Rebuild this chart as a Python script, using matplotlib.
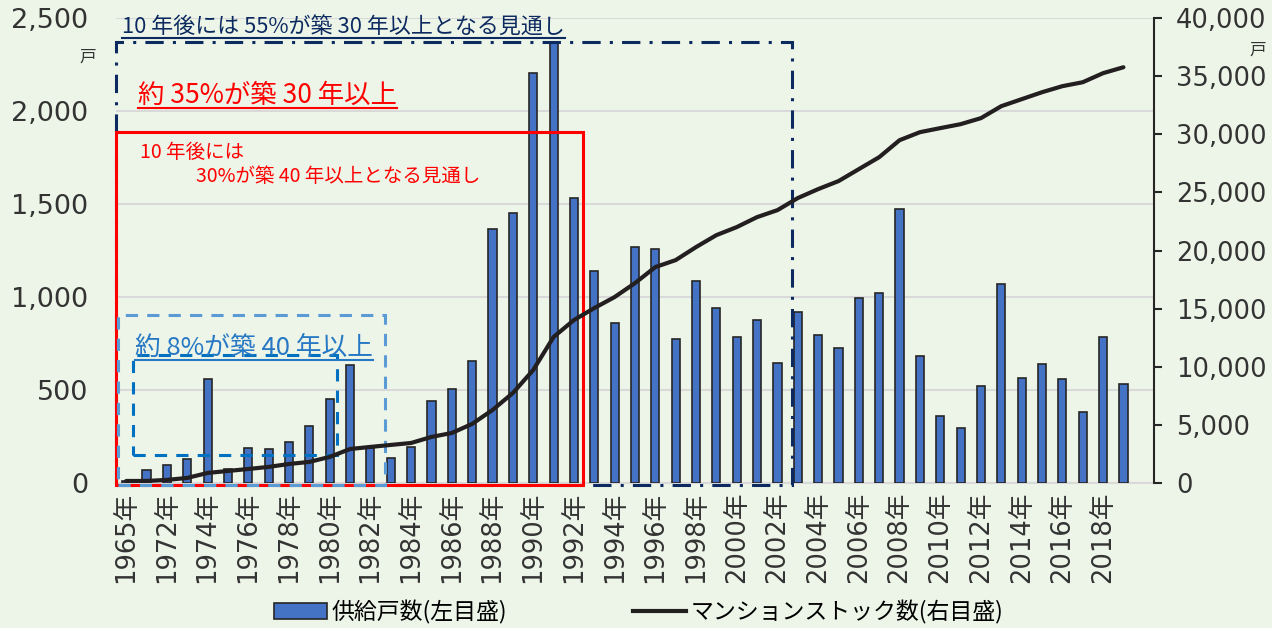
import numpy as np
import matplotlib
matplotlib.use('Agg')
import matplotlib.pyplot as plt
from matplotlib.patches import Rectangle, Patch
from matplotlib.lines import Line2D
from matplotlib.ticker import FuncFormatter

plt.rcParams['font.family'] = ['Noto Sans CJK JP', 'DejaVu Sans']
num_font = ['DejaVu Sans', 'Noto Sans CJK JP']

# data
years = ['1965', '1971', '1972', '1973', '1974', '1975', '1976', '1977', '1978', '1979',
         '1980', '1981', '1982', '1983', '1984', '1985', '1986', '1987', '1988', '1989',
         '1990', '1991', '1992', '1993', '1994', '1995', '1996', '1997', '1998', '1999',
         '2000', '2001', '2002', '2003', '2004', '2005', '2006', '2007', '2008', '2009',
         '2010', '2011', '2012', '2013', '2014', '2015', '2016', '2017', '2018', '2019']
supply = [12, 70, 97, 129, 559, 75, 188, 181, 219, 305,
          452, 634, 188, 134, 195, 441, 505, 656, 1366, 1452,
          2204, 2366, 1532, 1140, 860, 1269, 1258, 774, 1086, 941,
          785, 876, 645, 919, 796, 726, 995, 1022, 1473, 683,
          360, 296, 522, 1070, 563, 640, 559, 382, 785, 532]
stock = [170, 170, 260, 430, 860, 1030, 1200, 1380, 1630, 1810,
         2240, 2920, 3100, 3270, 3440, 3960, 4300, 5080, 6280, 7740,
         9720, 12560, 14020, 15050, 16000, 17200, 18580, 19180, 20300, 21330,
         22020, 22880, 23480, 24520, 25290, 25980, 27010, 28040, 29500, 30190,
         30540, 30880, 31400, 32430, 33030, 33630, 34150, 34490, 35270, 35780]

bg = '#EDF5E8'
navy = '#0C2A60'
blue_txt = '#2778C4'

fig = plt.figure(figsize=(12.72, 6.28), dpi=100, facecolor=bg)
ax = fig.add_axes([0.0912, 0.231, 0.816, 0.740])
ax.set_facecolor(bg)
ax2 = ax.twinx()

x = np.arange(len(years))
ax.bar(x, supply, width=0.4, color='#4472C4', edgecolor='#262626', linewidth=1.2, zorder=3)
ax2.plot(x, stock, color='#231F20', lw=3, zorder=4, solid_capstyle='round')

ax.set_xlim(-0.5, len(years) + 0.5)
ax.set_ylim(0, 2500)
ax2.set_ylim(0, 40000)
ax.set_yticks(np.arange(0, 2501, 500))
ax2.set_yticks(np.arange(0, 40001, 5000))
fmt = FuncFormatter(lambda v, p: f'{int(v):,}')
ax.yaxis.set_major_formatter(fmt)
ax2.yaxis.set_major_formatter(fmt)

ax.grid(axis='y', color='#D9D9D9', lw=1.5, zorder=0)
ax.set_axisbelow(True)
for s in ['top', 'left', 'right']:
    ax.spines[s].set_visible(False)
    ax2.spines[s].set_visible(False)
ax.spines['bottom'].set_color('#D9D9D9')
ax.spines['bottom'].set_linewidth(1.5)
ax2.spines['bottom'].set_visible(False)
ax2.spines['right'].set_visible(True)
ax2.spines['right'].set_color('#262626')
ax2.spines['right'].set_linewidth(1.5)

ax.tick_params(axis='y', length=0, labelcolor='#333333', pad=20)
ax2.tick_params(axis='y', length=6, width=1.5, color='#262626',
                labelcolor='#333333', pad=10)
ax.set_xticks(x[::2])
ax.set_xticklabels([y + '年' for y in years[::2]], rotation=90, color='#333333')
ax.tick_params(axis='x', length=0, pad=6)
for lab in ax2.get_yticklabels() + ax.get_xticklabels():
    lab.set_family(num_font)
    lab.set_fontsize(18.5)
for lab in ax.get_yticklabels():
    lab.set_family(num_font)
    lab.set_fontsize(19.5)

fig.text(0.069, 0.909, '戸', fontsize=12, color='#333333', ha='center', va='center')
fig.text(0.989, 0.92, '戸', fontsize=12, color='#333333', ha='center', va='center')

# annotation boxes (left-axis coordinates)
ax.add_patch(Rectangle((-0.49, -10), 33.2, 2381, fill=False, ec=navy, lw=2.2,
                       ls=(0, (6, 3, 1, 3)), zorder=5, clip_on=False))
ax.add_patch(Rectangle((-0.49, -10), 22.95, 1897, fill=False, ec='#FF0000', lw=2.2,
                       zorder=5, clip_on=False))
ax.add_patch(Rectangle((-0.4, -10), 13.1, 913, fill=False, ec='#5B9BD5', lw=2.2,
                       ls=(0, (4, 3)), zorder=6, clip_on=False))
ax.add_patch(Rectangle((0.34, 150), 10.0, 538, fill=False, ec='#0070C0', lw=2.2,
                       ls=(0, (4, 3)), zorder=6, clip_on=False))

t1 = fig.text(122 / 1272, 1 - 28 / 628, '10 年後には 55%が築 30 年以上となる見通し',
              fontsize=15.8, color=navy, ha='left', va='center')
t2 = fig.text(138 / 1272, 1 - 95 / 628, '約 35%が築 30 年以上',
              fontsize=19, color='#FF0000', ha='left', va='center')
t3 = fig.text(140 / 1272, 1 - 153 / 628, '10 年後には',
              fontsize=14, color='#FF0000', ha='left', va='center')
t4 = fig.text(196 / 1272, 1 - 177 / 628, '30%が築 40 年以上となる見通し',
              fontsize=14, color='#FF0000', ha='left', va='center')
t5 = fig.text(135 / 1272, 1 - 348 / 628, '約 8%が築 40 年以上',
              fontsize=18.5, color=blue_txt, ha='left', va='center')

# underline some of the notes
fig.canvas.draw()
r = fig.canvas.get_renderer()
for t, c in [(t1, navy), (t2, '#FF0000'), (t5, blue_txt)]:
    bb = t.get_window_extent(r)
    yy = (bb.y0 + 1) / fig.bbox.height
    fig.add_artist(Line2D([bb.x0 / fig.bbox.width, bb.x1 / fig.bbox.width], [yy, yy],
                          color=c, lw=1.5))

handles = [Patch(facecolor='#4472C4', edgecolor='#262626', lw=1.2),
           Line2D([], [], color='#231F20', lw=3)]
fig.legend(handles, ['供給戸数(左目盛)', 'マンションストック数(右目盛)'],
           loc='center', bbox_to_anchor=(0.502, 0.025), ncol=2, frameon=False,
           fontsize=16.5, columnspacing=5.5, handlelength=2.3, handletextpad=0.2,
           borderpad=0, borderaxespad=0)

fig.savefig('out.png', dpi=100, facecolor=bg)
